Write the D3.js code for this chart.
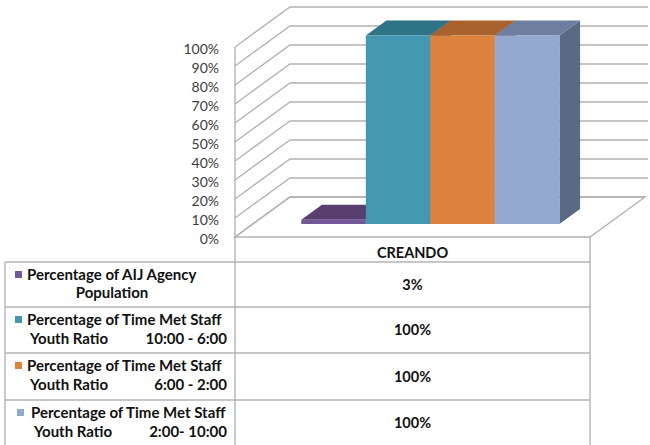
<!DOCTYPE html>
<html>
<head>
<meta charset="utf-8">
<script src="https://cdn.jsdelivr.net/npm/d3@7"></script>
<style>
  html, body { margin: 0; padding: 0; background: #fff; }
  svg { display: block; }
</style>
</head>
<body>
<div id="chart"></div>
<script>
// 3D clustered column (Excel style) with data table underneath
const categories = ["CREANDO"];
const seriesNames = [
  "Percentage of AIJ Agency Population",
  "Percentage of Time Met Staff Youth Ratio 10:00 - 6:00",
  "Percentage of Time Met Staff Youth Ratio 6:00 - 2:00",
  "Percentage of Time Met Staff Youth Ratio 2:00- 10:00",
];
const values = [0.03, 1, 1, 1];
const valueLabels = ["3%", "100%", "100%", "100%"];
const tickValues = [0, 0.1, 0.2, 0.3, 0.4, 0.5, 0.6, 0.7, 0.8, 0.9, 1];
// legend cell text: [line 1, line 2 left, line 2 right]
const legendLines = [
  ["Percentage of AIJ Agency", "Population", ""],
  ["Percentage of Time Met Staff", "Youth Ratio", "10:00 - 6:00"],
  ["Percentage of Time Met Staff", "Youth Ratio", "6:00 - 2:00"],
  ["Percentage of Time Met Staff", "Youth Ratio", "2:00- 10:00"],
];

const W = 650, H = 445;
const FONT = "Lato, 'Open Sans', sans-serif";
// face colours: front / top / side
const COLORS = [
  { front: "#725896", top: "#573f70", side: "#4c3862" },
  { front: "#4397b0", top: "#2f7486", side: "#2a6676" },
  { front: "#dc823e", top: "#a9622d", side: "#95562a" },
  { front: "#94a9d0", top: "#6d7ea0", side: "#5b6a84" },
];
const GRID = "#b3b3b3";

// plot box (front plane) + depth offset of the 3D box
const X0 = 235, X1 = 590, Y0 = 237, Y1 = 47;
const DX = 55, DY = -40;
const D0 = 0.325, D1 = 0.70; // bar depth slot

const y = d3.scaleLinear().domain([0, 1]).range([Y0, Y1]);
const xCat = d3.scaleBand().domain(categories).range([X0, X1]);
// gap width 150% → 0.75 bar width on each side of the group
const bw = xCat.bandwidth() / (seriesNames.length + 1.5);
const xSer = d3.scaleBand().domain(seriesNames)
  .range([xCat(categories[0]) + bw * 0.75, xCat(categories[0]) + xCat.bandwidth() - bw * 0.75]);

const svg = d3.select("#chart").append("svg")
  .attr("width", W).attr("height", H).attr("viewBox", `0 0 ${W} ${H}`);

// ── walls & floor ──
const grid = svg.append("g").attr("fill", "none").attr("stroke", GRID).attr("stroke-width", 1.4);
grid.append("path")
  .attr("d", `M${X0},${Y0} L${X1},${Y0} L${X1 + DX},${Y0 + DY} L${X0 + DX},${Y0 + DY} Z`)
  .attr("fill", "#fff");
tickValues.forEach(t => {
  const yy = y(t);
  grid.append("path")
    .attr("d", `M${X0},${yy} L${X0 + DX},${yy + DY} L${X1 + DX + 3 * (t > 0)},${yy + DY}`);
});
grid.append("line").attr("x1", X0).attr("x2", X0).attr("y1", Y1).attr("y2", Y0);

// y tick labels
svg.append("g").selectAll("text").data(tickValues).join("text")
  .attr("x", 219).attr("y", d => y(d) + 3)
  .attr("text-anchor", "end").attr("dominant-baseline", "middle")
  .attr("style", `font:14px ${FONT};fill:#3c3c3c`)
  .text(d => d3.format(".0%")(d));

// ── 3D bars ──
const bars = svg.append("g");
seriesNames.forEach((s, i) => {
  const x0 = xSer(s), w = xSer.bandwidth(), c = COLORS[i];
  const ax = x0 + D0 * DX, bx = x0 + D1 * DX;
  const yt0 = y(values[i]) + D0 * DY + 1.5, yt1 = y(values[i]) + D1 * DY + 1.5;
  const yb0 = y(0) + D0 * DY, yb1 = y(0) + D1 * DY;
  const g = bars.append("g");
  g.append("path").attr("fill", c.side)
    .attr("d", `M${ax + w},${yt0} L${bx + w},${yt1} L${bx + w},${yb1} L${ax + w},${yb0} Z`);
  g.append("path").attr("fill", c.top)
    .attr("d", `M${ax},${yt0} L${ax + w},${yt0} L${bx + w},${yt1} L${bx},${yt1} Z`);
  g.append("rect").attr("fill", c.front)
    .attr("x", ax).attr("y", yt0).attr("width", w).attr("height", yb0 - yt0);
});

// ── data table ──
const TL = 5, TB = H + 2;
const rowY = [262, 307, 353, 400, 446];
const tbl = svg.append("g").attr("stroke", GRID).attr("stroke-width", 1.4);
tbl.append("line").attr("x1", X0).attr("x2", X0).attr("y1", Y0).attr("y2", TB);
tbl.append("line").attr("x1", X1).attr("x2", X1).attr("y1", Y0).attr("y2", TB);
tbl.append("line").attr("x1", TL).attr("x2", TL).attr("y1", rowY[0]).attr("y2", TB);
rowY.slice(0, 4).forEach(r => {
  tbl.append("line").attr("x1", TL).attr("x2", X1).attr("y1", r).attr("y2", r);
});

const colMid = xCat(categories[0]) + xCat.bandwidth() / 2;
const vals = svg.append("g").attr("style", `font:bold 14.5px ${FONT};fill:#111`)
  .attr("text-anchor", "middle");
vals.append("text").attr("x", colMid).attr("y", 258).text(categories[0]);

const leg = svg.append("g").attr("style", `font:bold 15px ${FONT};fill:#111`);
seriesNames.forEach((s, i) => {
  const top = rowY[i], bot = rowY[i + 1];
  const mid = (top + bot) / 2;
  vals.append("text").attr("x", colMid).attr("y", mid + 5).text(valueLabels[i]);
  const L = legendLines[i];
  const sx = i === 3 ? 17 : 15, tx = i === 3 ? 31 : 27;
  svg.append("rect").attr("x", sx).attr("y", top + 9).attr("width", 7).attr("height", 7)
    .attr("fill", COLORS[i].front);
  leg.append("text").attr("x", tx).attr("y", top + 18).text(L[0]);
  if (L[2]) {
    leg.append("text").attr("x", tx + 3).attr("y", top + 37).text(L[1]);
    leg.append("text").attr("x", 227).attr("y", top + 37).attr("text-anchor", "end").text(L[2]);
  } else {
    leg.append("text").attr("x", 112).attr("y", top + 36).attr("text-anchor", "middle").text(L[1]);
  }
});
</script>
</body>
</html>
